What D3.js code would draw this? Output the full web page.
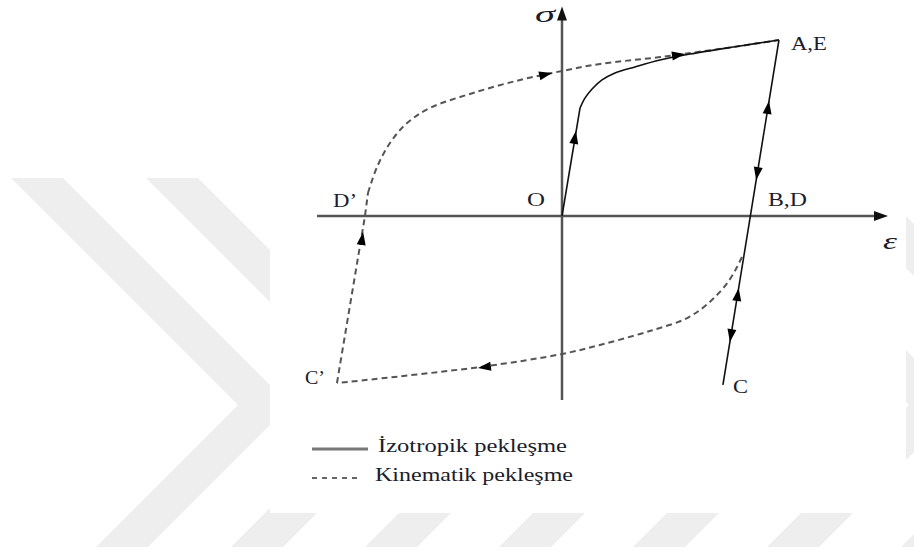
<!DOCTYPE html>
<html>
<head>
<meta charset="utf-8">
<script src="https://cdn.jsdelivr.net/npm/d3@7"></script>
<style>
  html, body { margin: 0; padding: 0; background: #ffffff; }
  svg { display: block; }
  text { font-family: "Liberation Serif", "Times New Roman", serif; fill: #1c1c2a; }
</style>
</head>
<body>
<svg id="chart" width="914" height="550"></svg>
<script>
// Stress-strain loop: isotropic vs kinematic hardening (strain ε, stress σ, normalised units)

// Isotropic hardening: elastic loading O -> yield, then hardening curve up to A
const isoElastic = [[0, 0], [0.096, 0.614]];
const isoHardening = [[0.096, 0.614], [0.122, 0.670], [0.160, 0.722], [0.213, 0.773], [0.282, 0.8125],
  [0.388, 0.847], [0.521, 0.886], [0.681, 0.920], [0.947, 0.966], [1.154, 1.0]];
// Elastic unloading line A -> B -> C
const unloadLine = [[1.154, 1.0], [0.856, -0.96]];

// Kinematic hardening: reverse plastic branch from the elastic line to C'
const kinReverse = [[0.957, -0.233], [0.931, -0.29], [0.883, -0.375], [0.814, -0.46], [0.734, -0.534],
  [0.644, -0.591], [0.521, -0.636], [0.415, -0.67], [0.202, -0.733], [0, -0.784], [-0.436, -0.858], [-1.197, -0.949]];
// Elastic reloading C' -> D'
const kinReload = [[-1.197, -0.949], [-1.048, 0], [-1.032, 0.131]];
// Forward plastic branch back to A,E
const kinForward = [[-1.032, 0.131], [-0.984, 0.278], [-0.915, 0.415], [-0.824, 0.528], [-0.702, 0.614],
  [-0.473, 0.699], [-0.223, 0.773], [0, 0.824], [0.202, 0.864], [0.521, 0.903], [0.947, 0.966], [1.154, 1.0]];

// Direction arrows: [from ε, from σ, tip ε, tip σ]
const arrows = [
  [0.05, 0.33, 0.074, 0.483],
  [-0.170, 0.784, -0.053, 0.8125],
  [0.548, 0.903, 0.654, 0.920],
  [1.08, 0.50, 1.101, 0.653],
  [1.055, 0.35, 1.033, 0.2045],
  [0.92, -0.55, 0.940, -0.409],
  [0.915, -0.57, 0.893, -0.716],
  [-0.330, -0.847, -0.447, -0.864],
  [-1.08, -0.25, -1.058, -0.091]
];

// Point labels: [text, ε, σ, dx, dy, stretched width]
const pointLabels = [
  ["A,E", 1.154, 1.0, 12, 10, 36],
  ["O", 0, 0, -35, -10, 18],
  ["D\u2019", -1.048, 0, -32, -9, 24],
  ["B,D", 1.0, 0, 18, -10, 39],
  ["C", 0.856, -0.96, 10, 8, 15],
  ["C\u2019", -1.197, -0.949, -32, 1, 20]
];

// Axis extents
const epsRange = [-1.303, 1.734];
const sigRange = [-1.045, 1.19];

// Legend entries
const legendItems = [
  { label: "İzotropik pekleşme", dashed: false, width: 189 },
  { label: "Kinematik pekleşme", dashed: true, width: 198 }
];

// Background chevrons (apex x positions)
const chevronApex = [238, 373, 507, 641, 775, 909, 1043];

const svg = d3.select("#chart");

// --- background chevron pattern and white figure panel
const cTop = 178, cBot = 547, cApexY = 405, cW = 52;
svg.append("g").selectAll("polygon").data(chevronApex).join("polygon")
  .attr("points", ax => [
    [ax - (cApexY - cTop), cTop], [ax - (cApexY - cTop) + cW, cTop], [ax + cW, cApexY],
    [ax - (cBot - cApexY) + cW, cBot], [ax - (cBot - cApexY), cBot], [ax, cApexY]
  ].map(p => p.join(",")).join(" "))
  .attr("fill", "#eeeeee");

svg.append("rect").attr("x", 270).attr("y", 0).attr("width", 636).attr("height", 513).attr("fill", "#ffffff");

// --- scales
const x = d3.scaleLinear().domain([0, 1]).range([562, 750]);
const y = d3.scaleLinear().domain([0, 1]).range([216, 40]);

const line = d3.line().x(d => x(d[0])).y(d => y(d[1]));
const smooth = d3.line().x(d => x(d[0])).y(d => y(d[1])).curve(d3.curveCatmullRom.alpha(0.5));

// --- axes with arrowheads
const axisColor = "#555555";
svg.append("line").attr("x1", x(epsRange[0])).attr("x2", x(epsRange[1]) - 10)
  .attr("y1", y(0)).attr("y2", y(0)).attr("stroke", axisColor).attr("stroke-width", 2.5);
svg.append("line").attr("x1", x(0)).attr("x2", x(0))
  .attr("y1", y(sigRange[0])).attr("y2", y(sigRange[1]) + 10).attr("stroke", axisColor).attr("stroke-width", 2.5);

function arrowHead(tx, ty, angle, len, half, color) {
  const c = Math.cos(angle), s = Math.sin(angle);
  const bx = tx - c * len, by = ty - s * len;
  const pts = [[tx, ty], [bx - s * half, by + c * half], [bx + s * half, by - c * half]];
  svg.append("polygon").attr("points", pts.map(p => p.join(",")).join(" ")).attr("fill", color);
}
arrowHead(x(epsRange[1]), y(0), 0, 14, 5, "#111");
arrowHead(x(0), y(sigRange[1]), -Math.PI / 2, 14, 5, "#111");

// --- kinematic hardening (dashed)
const dashStyle = sel => sel.attr("fill", "none").attr("stroke", "#555").attr("stroke-width", 2)
  .attr("stroke-dasharray", "6,4");
svg.append("path").attr("d", smooth(kinReverse)).call(dashStyle);
svg.append("path").attr("d", line(kinReload)).call(dashStyle);
svg.append("path").attr("d", smooth(kinForward)).call(dashStyle);

// --- isotropic hardening (solid)
const solidStyle = sel => sel.attr("fill", "none").attr("stroke", "#111").attr("stroke-width", 1.6);
svg.append("path").attr("d", line(isoElastic)).call(solidStyle);
svg.append("path").attr("d", smooth(isoHardening)).call(solidStyle);
svg.append("path").attr("d", line(unloadLine)).call(solidStyle);

// --- direction arrows
arrows.forEach(a => {
  const fx = x(a[0]), fy = y(a[1]), tx = x(a[2]), ty = y(a[3]);
  arrowHead(tx, ty, Math.atan2(ty - fy, tx - fx), 13, 4.5, "#000");
});

// --- labels
svg.append("text").attr("x", x(0) - 27).attr("y", y(sigRange[1]) + 15)
  .attr("font-size", 24).attr("font-style", "italic")
  .attr("textLength", 20).attr("lengthAdjust", "spacingAndGlyphs").text("σ");
svg.append("text").attr("x", x(epsRange[1]) - 5).attr("y", y(0) + 33)
  .attr("font-size", 24).attr("font-style", "italic")
  .attr("textLength", 14).attr("lengthAdjust", "spacingAndGlyphs").text("ε");

svg.append("g").selectAll("text").data(pointLabels).join("text")
  .attr("x", d => x(d[1]) + d[3]).attr("y", d => y(d[2]) + d[4])
  .attr("font-size", 18).attr("textLength", d => d[5]).attr("lengthAdjust", "spacingAndGlyphs")
  .text(d => d[0]);

// --- legend
const legend = svg.append("g").attr("transform", "translate(312,449)");
legendItems.forEach((d, i) => {
  const g = legend.append("g").attr("transform", `translate(0,${i * 29})`);
  g.append("line").attr("x1", 0).attr("x2", d.dashed ? 50 : 56).attr("y1", 0).attr("y2", 0)
    .attr("stroke", d.dashed ? "#666" : "#777").attr("stroke-width", d.dashed ? 2 : 3)
    .attr("stroke-dasharray", d.dashed ? "5,5" : null);
  g.append("text").attr("x", i === 0 ? 66 : 63).attr("y", 3)
    .attr("font-size", 18).attr("textLength", d.width).attr("lengthAdjust", "spacingAndGlyphs")
    .text(d.label);
});
</script>
</body>
</html>
